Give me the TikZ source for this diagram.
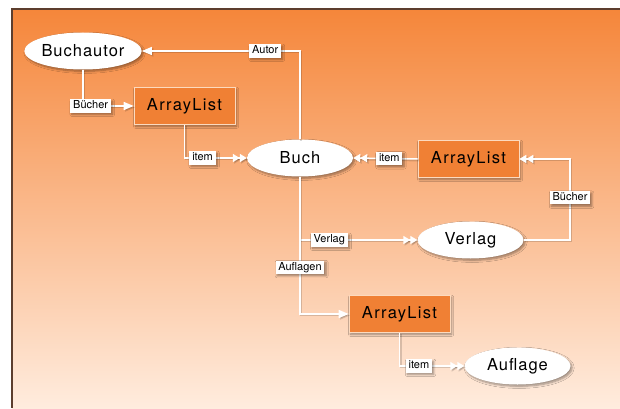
\documentclass[tikz,border=0pt]{standalone}
\usepackage{fontspec}
\setmainfont{TeX Gyre Heros}
\usetikzlibrary{arrows.meta,shapes.geometric,shadows.blur}

\definecolor{bgtop}{RGB}{245,134,58}
\definecolor{bgmid}{RGB}{248,174,120}
\definecolor{bgbot}{RGB}{255,236,222}
\definecolor{boxfill}{RGB}{240,128,52}
\definecolor{boxline}{RGB}{253,218,190}
\definecolor{rahmen}{RGB}{92,62,46}

\begin{document}
\begin{tikzpicture}[x=1pt,y=1pt,
  schatten/.style={blur shadow={shadow xshift=1.6pt,shadow yshift=-1.8pt,
    shadow opacity=40,shadow blur steps=6}},
  klasse/.style={ellipse,fill=white,minimum width=106pt,minimum height=37pt,
    inner sep=0pt,schatten,
    font=\fontsize{16.5}{18}\selectfont\addfontfeature{LetterSpace=6}},
  liste/.style={rectangle,fill=boxfill,draw=boxline,line width=0.6pt,
    minimum width=101pt,minimum height=37pt,inner sep=0pt,schatten,
    font=\fontsize{16.5}{18}\selectfont\addfontfeature{LetterSpace=8}},
  lab/.style={fill=white,text=black,inner xsep=2.8pt,inner ysep=1.5pt,
    text height=7.8pt,text depth=2.4pt,schatten,
    font=\fontsize{11}{12}\selectfont},
  verb/.style={draw=white,line width=1.5pt,
    preaction={draw=black,opacity=0.15,line width=2pt,
      transform canvas={shift={(1.4pt,-1.4pt)}}}},
  einfach/.style={-{Triangle[length=10pt,width=8pt]}},
  doppelt/.style={-{Triangle[length=7pt,width=8pt]Triangle[length=7pt,width=8pt]}}]

  \useasboundingbox (0,0) rectangle (620,408);

  % Rahmen mit Farbverlauf
  \shade[top color=bgtop,middle color=bgmid,bottom color=bgbot]
    (12,0) rectangle (620,399);
  \draw[rahmen,line width=1.3pt] (12,0) -- (12,399) -- (620,399);

  % Klassen und Listen
  \node[klasse] (buchautor) at (83,357) {Buchautor};
  \node[liste]  (liste1)    at (184.5,302) {ArrayList};
  \node[klasse] (buch)      at (300,250) {Buch};
  \node[liste]  (liste2)    at (468.5,249) {ArrayList};
  \node[klasse] (verlag)    at (470.5,168) {Verlag};
  \node[liste]  (liste3)    at (399.5,94) {ArrayList};
  \node[klasse] (auflage)   at (517.5,42) {Auflage};
  \coordinate (knick) at (570,249);

  % Beziehungen
  \draw[verb,einfach] (buch.north) |- node[lab,pos=0.61] (l-autor) {Autor}
    (buchautor.east);
  \draw[verb,einfach] (buchautor.south) |- node[lab,pos=0.575] (l-buecher1) {Bücher}
    (liste1.west);
  \draw[verb,doppelt] (liste1.south) |- node[lab,pos=0.645] (l-item1) {item}
    (buch.west);
  \draw[verb,doppelt] (liste2.west) -- node[lab,pos=0.44] (l-item2) {item}
    (buch.east);
  \draw[verb,doppelt] (verlag.east) -| node[lab,pos=0.76] (l-buecher2) {Bücher}
    (knick) -- (liste2.east);
  \draw[verb,doppelt] (buch.south |- verlag.west) -- node[lab,pos=0.25] (l-verlag) {Verlag}
    (verlag.west);
  \draw[verb,einfach] (buch.south) |- node[lab,pos=0.33] (l-auflagen) {Auflagen}
    (liste3.west);
  \draw[verb,doppelt] (liste3.south) |- node[lab,pos=0.65] (l-item3) {item}
    (auflage.west);
\end{tikzpicture}
\end{document}
